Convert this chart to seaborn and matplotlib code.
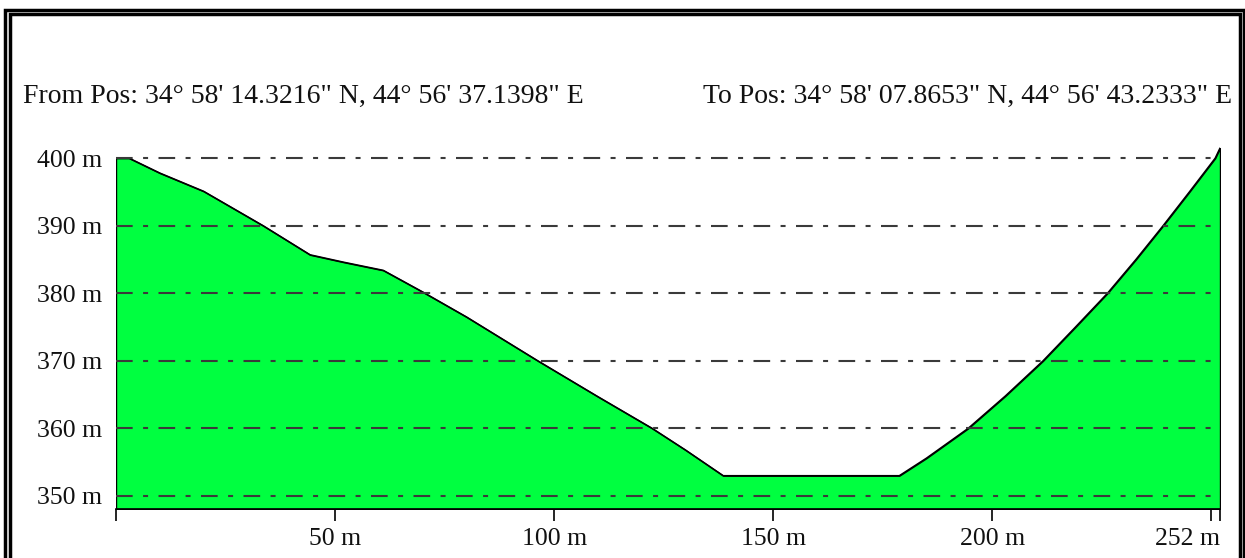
import matplotlib
matplotlib.use('Agg')
import matplotlib.pyplot as plt
import seaborn as sns
import pandas as pd
from matplotlib.patches import Rectangle

## DATA
distance = [0, 3, 10, 20, 33.6, 44.3, 52, 61, 70, 80, 96.3, 110, 122.4, 130, 138.6,
            178.8, 185, 194.5, 203, 211.6, 219, 226.3, 232.8, 239, 245, 250.9, 252]
elevation = [400, 400, 397.8, 395.1, 390, 385.7, 384.6, 383.4, 380.2, 376.5, 370, 364.7, 360, 356.8, 353,
             353, 355.6, 360, 364.8, 370, 375, 380, 385, 390, 395, 400, 401.5]
x_ticks = [0, 50, 100, 150, 200, 250, 252]
x_tick_labels = ['', '50 m', '100 m', '150 m', '200 m', '', '252 m']
y_ticks = [350, 360, 370, 380, 390, 400]
y_tick_labels = [f'{v} m' for v in y_ticks]
from_pos = 'From Pos: 34° 58\' 14.3216" N, 44° 56\' 37.1398" E'
to_pos = 'To Pos: 34° 58\' 07.8653" N, 44° 56\' 43.2333" E'

df = pd.DataFrame({'distance': distance, 'elevation': elevation})

sns.set_style('white')
plt.rcParams['font.family'] = ['Liberation Serif', 'DejaVu Serif']

W, H = 1245, 558
fig = plt.figure(figsize=(W / 100, H / 100), dpi=100)
ax = fig.add_axes([116 / W, (H - 509) / H, (1220 - 116) / W, (509 - 144) / H])

y_bottom = 348.07
ax.fill_between(df['distance'], df['elevation'], y_bottom, color='#00FF40',
                edgecolor='black', linewidth=1.0, zorder=1)
sns.lineplot(data=df, x='distance', y='elevation', color='black', linewidth=1.1, ax=ax, zorder=2)

#### dash-dot grid over the fill
for v in y_ticks:
    ax.axhline(v, color='#3a3a3a', linewidth=1.5, dashes=(8, 5, 2.4, 5), zorder=3)

ax.set_xlim(0, 252)
ax.set_ylim(y_bottom, 402.1)
ax.set_xticks(x_ticks)
ax.set_xticklabels(x_tick_labels)
ax.set_yticks(y_ticks)
ax.set_yticklabels(y_tick_labels)
ax.tick_params(axis='x', direction='out', length=8.6, width=1.2, color='black',
               labelsize=18.5, labelcolor='#111111', pad=5, bottom=True)
ax.tick_params(axis='y', length=0, labelsize=18.5, labelcolor='#111111', pad=10)
#### last label sits left of its tick, inside the frame
ax.get_xticklabels()[-1].set_horizontalalignment('right')
ax.set_xlabel('')
ax.set_ylabel('')
for s in ['top', 'right', 'left']:
    ax.spines[s].set_visible(False)
ax.spines['bottom'].set_color('black')
ax.spines['bottom'].set_linewidth(1.2)
ax.set_facecolor('none')

#### header texts
fig.text(23 / W, 1 - 96 / H, from_pos, ha='left', va='center', fontsize=20, color='#111111')
fig.text(1232 / W, 1 - 96 / H, to_pos, ha='right', va='center', fontsize=20, color='#111111')

#### double window frame
for x0, y0, x1, lw in [(5.5, 9.5, 1243.5, 2.5), (10, 13.5, 1239.5, 2.5)]:
    fig.add_artist(Rectangle((x0 / W, -0.2), (x1 - x0) / W, 1 - y0 / H + 0.2,
                             transform=fig.transFigure, fill=False,
                             edgecolor='black', linewidth=lw, clip_on=False))

fig.savefig('out.png', dpi=100, facecolor='white')
